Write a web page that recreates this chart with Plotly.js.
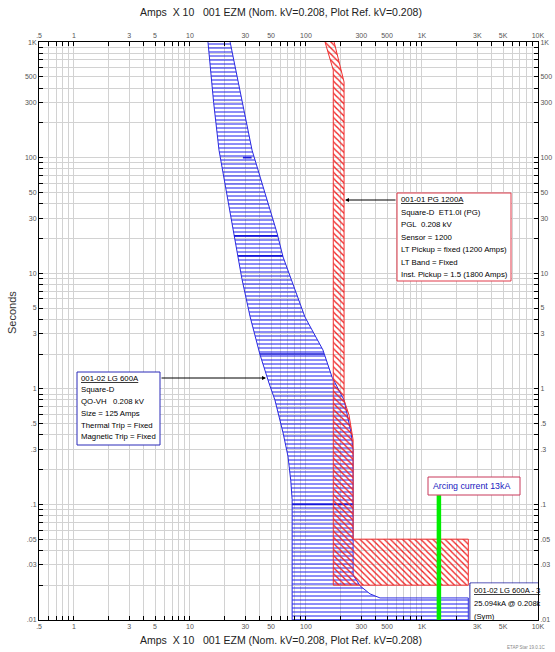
<!DOCTYPE html>
<html><head><meta charset="utf-8">
<script src="https://cdn.plot.ly/plotly-3.0.1.min.js"></script>
<style>html,body{margin:0;padding:0;background:#fff}#chart{width:555px;height:652px}</style>
</head><body><div id="chart"></div>
<script>
// ---- data (Amps X 10, seconds) ----
const blueMinAmps = [14.3, 16, 17.8, 20, 23.5, 28, 33, 40, 48, 54, 63.5, 70, 74, 76, 76];
const blueMinSec  = [1000, 300, 116, 60, 22.3, 9, 4.2, 2, 1.12, 0.8, 0.415, 0.26, 0.16, 0.11, 0.01];
const blueMaxAmps = [22.2, 34.3, 56.3, 63.5, 98, 140, 168, 213, 245, 255, 255, 293, 357, 435, 2509.4, 2509.4];
const blueMaxSec  = [1000, 116, 22.3, 13.8, 4.18, 2.17, 1.26, 0.8, 0.415, 0.296, 0.0245, 0.0197, 0.0168, 0.0155, 0.0155, 0.01];

// darker band lines inside the blue curve
const blueBoldAmpsFrom = [28.6, 24, 26, 40, 76];
const blueBoldAmpsTo   = [34, 57, 63, 143, 255];
const blueBoldSec      = [100, 21, 14.1, 2, 0.1];

const redMinAmps = [146, 172, 172];
const redMinSec  = [1000, 572, 0.02];
const redMaxAmps = [175, 213, 213, 235, 255, 255, 2509.4, 2509.4];
const redMaxSec  = [1000, 451, 0.8, 0.593, 0.36, 0.05, 0.05, 0.02];

const arcAmps = [1400, 1400];
const arcSec  = [0.01, 0.12];

const xLabelVals = [0.5, 1, 3, 5, 10, 30, 50, 100, 300, 500, 1000, 3000, 5000, 10000];
const xLabelText = ['.5', '1', '3', '5', '10', '30', '50', '100', '300', '500', '1K', '3K', '5K', '10K'];
const yLabelVals = [0.01, 0.03, 0.05, 0.1, 0.3, 0.5, 1, 3, 5, 10, 30, 50, 100, 300, 500, 1000];
const yLabelText = ['.01', '.03', '.05', '.1', '.3', '.5', '1', '3', '5', '10', '30', '50', '100', '300', '500', '1K'];

const titleText = 'Amps\u00a0 X 10\u00a0\u00a0 001 EZM (Nom. kV=0.208, Plot Ref. kV=0.208)';
const box1Lines = ['<u>001-01 PG 1200A</u>', 'Square-D\u00a0 ET1.0I (PG)', 'PGL\u00a0 0.208 kV', 'Sensor = 1200',
                   'LT Pickup = fixed (1200 Amps)', 'LT Band = Fixed', 'Inst. Pickup = 1.5 (1800 Amps)'];
const box2Lines = ['<u>001-02 LG 600A</u>', 'Square-D', 'QO-VH\u00a0\u00a0 0.208 kV', 'Size = 125 Amps',
                   'Thermal Trip = Fixed', 'Magnetic Trip = Fixed'];
const box4Lines = ['<u>001-02 LG 600A - 3</u>', '25.094kA @ 0.208k', '(Sym)'];
const arcLabel = 'Arcing current 13kA';

// ---- helpers ----
function gridVals(lo, hi) {
  const v = [];
  for (let e = -3; e <= 5; e++) for (let m = 1; m <= 9; m++) {
    const x = +(m * Math.pow(10, e)).toPrecision(6);
    if (x >= lo * 0.9999 && x <= hi * 1.0001) v.push(x);
  }
  return v;
}
function labelsFor(vals, lv, lt) {
  return vals.map(v => { const i = lv.findIndex(a => Math.abs(a - v) / v < 1e-6); return i >= 0 ? lt[i] : ''; });
}
const xt = gridVals(0.5, 10000), yt = gridVals(0.01, 1000);
const xtt = labelsFor(xt, xLabelVals, xLabelText), ytt = labelsFor(yt, yLabelVals, yLabelText);

const L = 39, R = 538, T = 42, B = 620;
const xp = px => (px - L) / (R - L);
const yp = py => (B - py) / (B - T);
const FONT = 'Arial, "Liberation Sans", sans-serif';

const ann = [];
const shp = [];
function txt(px, py, text, size, color, extra) {
  ann.push(Object.assign({xref:'paper', yref:'paper', x:xp(px), y:yp(py), text:text, showarrow:false,
    xanchor:'left', yanchor:'middle', font:{family:FONT, size:size, color:color}}, extra || {}));
}
function rect(x0, y0, x1, y1, color) {
  shp.push({type:'rect', xref:'paper', yref:'paper', x0:xp(x0), x1:xp(x1), y0:yp(y1), y1:yp(y0),
    line:{color:color, width:1}, fillcolor:'white', layer:'above'});
}
function arrow(hx, hy, tx, ty) {
  ann.push({xref:'paper', yref:'paper', x:xp(hx), y:yp(hy), ax:tx - hx, ay:ty - hy, text:'',
    showarrow:true, arrowhead:2, arrowsize:0.8, arrowwidth:1, arrowcolor:'#000', standoff:0});
}

// titles
txt(281, 12, titleText, 10.5, '#222', {xanchor:'center'});
txt(281, 640, titleText, 10.5, '#222', {xanchor:'center'});
txt(12, 313, 'Seconds', 11, '#333', {xanchor:'center', textangle:-90});
txt(526, 647, 'ETAP Star 19.0.1C', 4.5, '#888', {xanchor:'center'});

// box 1 (red device)
rect(397, 193, 511, 281, '#e03a4a');
box1Lines.forEach((s, i) => txt(399, 200 + i * 12.4, s, 7.8, '#000'));
arrow(345, 200, 397, 200);

// box 2 (blue device)
rect(77, 372, 160, 445, '#2a2ab8');
box2Lines.forEach((s, i) => txt(79, 378 + i * 11.8, s, 7.8, '#000'));
arrow(266, 378, 160, 378);

// box 3 arcing current
rect(428, 477, 520, 495, '#c8385a');
txt(431, 485.5, arcLabel, 8.8, '#2020c0');

// box 4 (clipped at plot edge)
shp.push({type:'line', xref:'paper', yref:'paper', x0:xp(470), x1:1, y0:yp(583), y1:yp(583), line:{color:'#2020a0', width:1.2}, layer:'above'});
shp.push({type:'line', xref:'paper', yref:'paper', x0:xp(470), x1:xp(470), y0:yp(583), y1:0, line:{color:'#2020a0', width:1.2}, layer:'above'});
shp.push({type:'rect', xref:'paper', yref:'paper', x0:xp(470.6), x1:1, y0:0, y1:yp(583.6), line:{width:0}, fillcolor:'white', layer:'above'});
box4Lines.forEach((s, i) => txt(471.5, 590 + i * 13, s, 7.6, '#000'));

// ---- traces ----
const blueX = blueMinAmps.concat(blueMaxAmps.slice().reverse());
const blueY = blueMinSec.concat(blueMaxSec.slice().reverse());
const redX = redMinAmps.concat(redMaxAmps.slice().reverse());
const redY = redMinSec.concat(redMaxSec.slice().reverse());
const boldX = [], boldY = [];
blueBoldSec.forEach((t, i) => { boldX.push(blueBoldAmpsFrom[i], blueBoldAmpsTo[i], null); boldY.push(t, t, null); });

const traces = [
  {x:blueX, y:blueY, type:'scatter', mode:'lines', fill:'toself', hoverinfo:'skip',
   line:{color:'#2a2ae0', width:1},
   fillpattern:{shape:'-', fgcolor:'#1c1cf0', size:4, solidity:0.25}},
  {x:boldX, y:boldY, type:'scatter', mode:'lines', hoverinfo:'skip', connectgaps:false,
   line:{color:'#1818d8', width:1.7}},
  {x:redX, y:redY, type:'scatter', mode:'lines', fill:'toself', hoverinfo:'skip',
   line:{color:'#f03030', width:1},
   fillpattern:{shape:'\\', fgcolor:'#f02020', size:4.3, solidity:0.3}},
  {x:arcAmps, y:arcSec, type:'scatter', mode:'lines', xaxis:'x2', yaxis:'y2', hoverinfo:'skip',
   line:{color:'#00ee00', width:4.5}}
];

const ax = {
  type:'log', tickmode:'array', ticks:'inside', ticklen:4, tickwidth:1, tickcolor:'#000',
  showline:true, linecolor:'#000', linewidth:1, zeroline:false, fixedrange:true, automargin:false,
  tickfont:{family:FONT, size:7, color:'#555'}, tickangle:0
};
const xr = [Math.log10(0.5) - 0.0005, 4.0005], yr = [-2.0005, 3.0005];
const layout = {
  width:555, height:652, margin:{l:L, r:555 - R, t:T, b:652 - B},
  paper_bgcolor:'#fff', plot_bgcolor:'#fff', showlegend:false,
  xaxis:Object.assign({}, ax, {range:xr, tickvals:xt, ticktext:xtt, showgrid:true, gridcolor:'#d2d2d2', gridwidth:1, side:'bottom'}),
  xaxis2:Object.assign({}, ax, {range:xr, tickvals:xt, ticktext:xtt, showgrid:false, overlaying:'x', side:'top'}),
  yaxis:Object.assign({}, ax, {range:yr, tickvals:yt, ticktext:ytt, showgrid:true, gridcolor:'#d2d2d2', gridwidth:1, side:'left'}),
  yaxis2:Object.assign({}, ax, {range:yr, tickvals:yt, ticktext:ytt, showgrid:false, overlaying:'y', side:'right'}),
  annotations:ann, shapes:shp
};
Plotly.newPlot('chart', traces, layout, {staticPlot:true, displayModeBar:false});
</script></body></html>
